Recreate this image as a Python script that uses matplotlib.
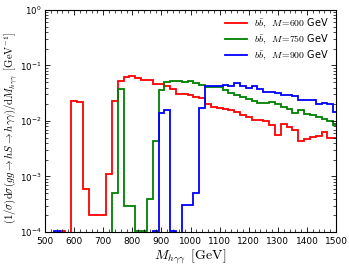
import numpy as np
import matplotlib
matplotlib.use("Agg")
import matplotlib.pyplot as plt
from matplotlib.ticker import AutoMinorLocator, LogLocator, NullFormatter

plt.rcParams['mathtext.fontset'] = 'cm'
plt.rcParams['font.family'] = ['DejaVu Sans']

# bin centres (GeV), 20 GeV bins
centers = list(range(500, 1501, 20))

# values per bin (0 = below plot range)
red = [0, 0, 0, 1.03e-4, 0, 0.023, 0.022, 5.9e-4, 2.0e-4, 2.0e-4,
       2.0e-4, 1.1e-3, 0.023, 0.053, 0.061, 0.065, 0.059, 0.055, 0.055, 0.047,
       0.047, 0.043, 0.037, 0.031, 0.030, 0.029, 0.0274, 0.0256, 0.020, 0.018,
       0.0174, 0.0165, 0.0158, 0.0147, 0.0128, 0.012, 0.0104, 0.0104, 0.0098, 0.0085,
       0.0056, 0.0087, 0.0078, 0.0068, 0.0044, 0.0048, 0.0051, 0.0053, 0.0063, 0.0049,
       0.0049]
green = [0, 0, 0, 0, 0, 0, 0, 0, 0, 0,
         0, 0, 5.0e-4, 0.038, 3.0e-4, 3.0e-4, 1.03e-4, 1.03e-4, 4.0e-4, 4.3e-3,
         0.036, 0.050, 0.052, 0.052, 0.051, 0.0525, 0.049, 0.045, 0.0415, 0.0405,
         0.0405, 0.036, 0.032, 0.029, 0.027, 0.0245, 0.0226, 0.0214, 0.0208, 0.0217,
         0.020, 0.018, 0.0163, 0.0137, 0.0155, 0.0135, 0.0128, 0.012, 0.0107, 0.0098,
         0.0085]
blue = [0, 0, 1.05e-4, 0, 0, 0, 0, 0, 0, 0,
        0, 0, 0, 0, 0, 0, 0, 0, 0, 1.05e-4,
        0.0138, 0.016, 1.05e-4, 0, 3.1e-4, 3.1e-4, 5.1e-4, 0.017, 0.043, 0.043,
        0.043, 0.045, 0.043, 0.048, 0.042, 0.040, 0.043, 0.037, 0.033, 0.033,
        0.032, 0.029, 0.029, 0.028, 0.024, 0.0235, 0.0235, 0.020, 0.021, 0.020,
        0.0146]

labels = [r"$b\bar{b},\;\; M\!=\!600$ GeV",
          r"$b\bar{b},\;\; M\!=\!750$ GeV",
          r"$b\bar{b},\;\; M\!=\!900$ GeV"]
colors = ['#ff0000', '#008000', '#0000ff']

fig = plt.figure(figsize=(3.49, 2.67), dpi=100)
ax = fig.add_axes([0.129, 0.131, 0.834, 0.832])

c = np.array(centers, dtype=float)
edges = np.concatenate([c - 10, [c[-1] + 10]])
for vals, col, lab in zip([red, green, blue], colors, labels):
    v = np.array(vals, dtype=float)
    v = np.where(v > 0, v, 1e-7)
    ax.stairs(v, edges, color=col, lw=1.3, label=lab, baseline=None)

ax.set_yscale('log')
ax.set_xlim(500, 1500)
ax.set_ylim(1e-4, 1)
ax.set_xticks(range(500, 1501, 100))
ax.xaxis.set_minor_locator(AutoMinorLocator(5))
ax.yaxis.set_minor_locator(LogLocator(base=10, subs=np.arange(2, 10)))
ax.yaxis.set_minor_formatter(NullFormatter())
ax.tick_params(which='both', direction='in', top=True, right=True, labelsize=6.5)
ax.tick_params(axis='y', which='major', labelsize=6.2, pad=2.5)
ax.tick_params(which='major', length=3.5, width=0.6)
ax.tick_params(which='minor', length=2, width=0.5)
for s in ax.spines.values():
    s.set_linewidth(0.8)

ax.set_xlabel(r"$M_{h\gamma\gamma}\;\;[\mathrm{GeV}]$", fontsize=10, labelpad=1)
ax.set_ylabel(r"$(1/\sigma)\mathrm{d}\sigma(gg\to hS\to h\gamma\gamma)/\mathrm{d}M_{h\gamma\gamma}\;\;[\mathrm{GeV}^{-1}]$",
              fontsize=7.7, labelpad=1)
ax.yaxis.set_label_coords(-0.088, 0.47)

ax.legend(loc='upper right', frameon=False, fontsize=7, handlelength=2.2,
          borderaxespad=0.3, labelspacing=0.25, handletextpad=0.8)

fig.savefig("out.png", dpi=100)
